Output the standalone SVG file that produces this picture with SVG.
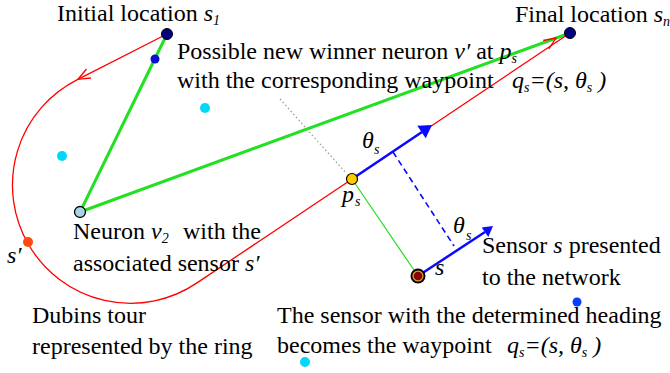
<svg xmlns="http://www.w3.org/2000/svg" width="670" height="373" viewBox="0 0 670 373">
<style>
text{font-family:'Liberation Serif','Times New Roman','DejaVu Serif',serif;font-size:24px;fill:#000}
.it{font-style:italic}
.sub{font-size:14px;font-style:italic}
.red{fill:none;stroke:#ff0000;stroke-width:1.3}
.gthick{fill:none;stroke:#22e022;stroke-width:3}
.gthin{fill:none;stroke:#22dd22;stroke-width:1.2}
.blue{fill:none;stroke:#0a0aff;stroke-width:2.5}
.bluefill{fill:#0a0aff;stroke:none}
.dash{fill:none;stroke:#0a0aff;stroke-width:1.6;stroke-dasharray:6 4}
.dot{fill:none;stroke:#999;stroke-width:1.2;stroke-dasharray:1.5 2.5}
.cyan{fill:#00d8f8}
.navy{fill:#000080;stroke:#000;stroke-width:1}
</style>
<g id="connectors">
<path class="gthick" d="M167,34 L80,212 L570,33"/>
<path class="dot" d="M280,99 L346,173"/>
<path class="red" d="M167,34 L77.9,79.3 A118.2 118.2 0 1 0 197,282.9 L570,33"/>
<polyline class="red" points="91,78 78,79.3 86.5,69"/>
<polyline class="red" points="543.2,40.5 556,38 548.8,48.8"/>
<path class="gthin" d="M352,179 L418,276"/>
<path class="blue" d="M352,179 L422,132"/>
<polygon class="bluefill" points="432,125 425.7,138.2 417.3,125.8"/>
<path class="blue" d="M418,276 L485,232"/>
<polygon class="bluefill" points="493,226 488.3,237 481.7,227.5"/>
<path class="dash" d="M393,152 L454,246"/>
</g>
<g id="node-s1"><circle class="navy" cx="167" cy="34" r="5.5"/></g>
<g id="node-sn"><circle class="navy" cx="570" cy="33" r="5.5"/></g>
<g id="node-blue1"><circle cx="155" cy="59" r="4.5" fill="#0a10d0"/></g>
<g id="node-v2"><circle cx="80" cy="212" r="5.5" fill="#a8d4e4" stroke="#000" stroke-width="1.3"/></g>
<g id="node-sprime"><circle cx="28" cy="242" r="5" fill="#ff4a10"/></g>
<g id="node-ps"><circle cx="352" cy="179" r="5.5" fill="#ffcc00" stroke="#000" stroke-width="1.2"/></g>
<g id="node-s">
<circle cx="418" cy="276" r="7.5" fill="#000"/>
<circle cx="418" cy="276" r="5.6" fill="#e09a30"/>
<circle cx="418" cy="276" r="4.3" fill="#8b0000"/>
</g>
<g id="cyan-dots">
<circle class="cyan" cx="205" cy="108" r="5"/>
<circle class="cyan" cx="62" cy="156" r="5"/>
<circle class="cyan" cx="305" cy="362" r="5"/>
</g>
<g id="node-blue2"><circle cx="577" cy="302" r="4.5" fill="#0a3cff"/></g>
<g id="labels" font-family="'Liberation Serif','Times New Roman','DejaVu Serif',serif">
<text x="57" y="21">Initial location <tspan class="it">s</tspan><tspan class="sub" dy="4">1</tspan></text>
<text x="515" y="22">Final location <tspan class="it">s</tspan><tspan class="sub" dy="4">n</tspan></text>
<text x="177" y="59">Possible new winner neuron <tspan class="it">v′</tspan> at <tspan class="it">p</tspan><tspan class="sub" dy="4">s</tspan></text>
<text x="177" y="88">with the corresponding waypoint<tspan class="it" x="512">q</tspan><tspan class="sub" dy="4">s</tspan><tspan class="it" dy="-4">=(s, θ</tspan><tspan class="sub" dy="4">s</tspan><tspan class="it" dy="-4"> )</tspan></text>
<text class="it" x="362" y="148">θ</text><text class="sub" x="374" y="154">s</text>
<text class="it" x="342" y="202">p</text><text class="sub" x="355" y="206">s</text>
<text class="it" x="453" y="233">θ</text><text class="sub" x="466" y="240">s</text>
<text class="it" x="435" y="275">s</text>
<text class="it" x="7" y="263">s′</text>
<text x="73" y="239">Neuron <tspan class="it">v</tspan><tspan class="sub" dy="4">2</tspan><tspan x="183" dy="-4">with the</tspan></text>
<text x="73" y="271">associated sensor <tspan class="it">s′</tspan></text>
<text x="482" y="253">Sensor <tspan class="it">s</tspan> presented</text>
<text x="482" y="285">to the network</text>
<text x="32" y="323">Dubins tour</text>
<text x="32" y="354">represented by the ring</text>
<text x="277" y="323">The sensor with the determined heading</text>
<text x="277" y="353">becomes the waypoint<tspan class="it" x="507">q</tspan><tspan class="sub" dy="4">s</tspan><tspan class="it" dy="-4">=(s, θ</tspan><tspan class="sub" dy="4">s</tspan><tspan class="it" dy="-4"> )</tspan></text>
</g>
</svg>
